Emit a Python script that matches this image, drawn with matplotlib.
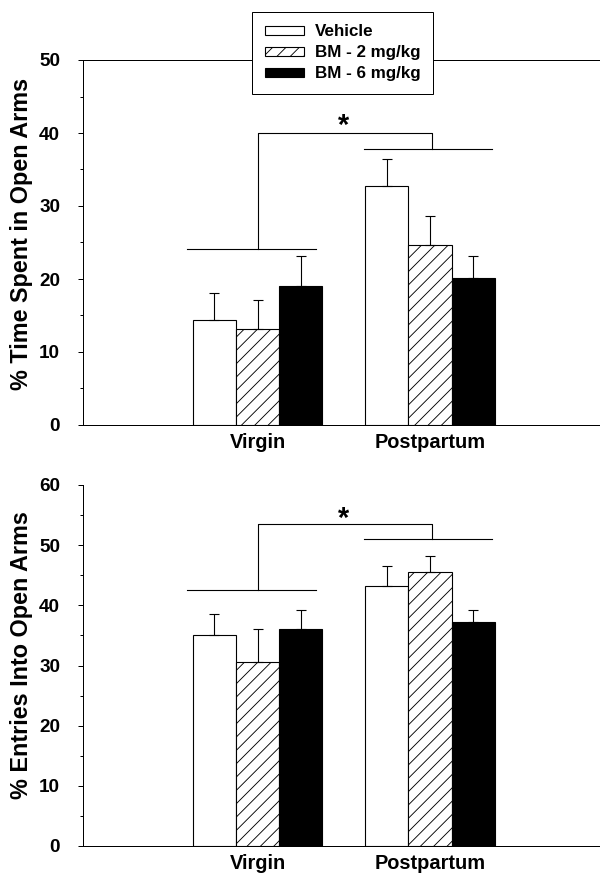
import matplotlib
matplotlib.use("Agg")
import matplotlib.pyplot as plt
import numpy as np

plt.rcParams['font.family'] = ['Liberation Sans', 'DejaVu Sans']
plt.rcParams['font.weight'] = 'bold'
plt.rcParams['hatch.linewidth'] = 0.8

# ---------------- data ----------------
groups = ["Virgin", "Postpartum"]
treatments = ["Vehicle", "BM - 2 mg/kg", "BM - 6 mg/kg"]

time_mean = {"Vehicle": [14.4, 32.7], "BM - 2 mg/kg": [13.2, 24.6], "BM - 6 mg/kg": [19.1, 20.2]}
time_sem = {"Vehicle": [3.7, 3.7], "BM - 2 mg/kg": [3.9, 4.0], "BM - 6 mg/kg": [4.1, 3.0]}

entries_mean = {"Vehicle": [35.1, 43.2], "BM - 2 mg/kg": [30.6, 45.5], "BM - 6 mg/kg": [36.0, 37.2]}
entries_sem = {"Vehicle": [3.5, 3.3], "BM - 2 mg/kg": [5.4, 2.7], "BM - 6 mg/kg": [3.2, 2.0]}

# significance bracket levels: [virgin line, postpartum line, top]
time_bracket = [24.1, 37.8, 40.0]
entries_bracket = [42.6, 51.0, 53.6]

time_yticks = [0, 10, 20, 30, 40, 50]
entries_yticks = [0, 10, 20, 30, 40, 50, 60]

styles = {
    "Vehicle": dict(facecolor="white", hatch=None),
    "BM - 2 mg/kg": dict(facecolor="white", hatch="//"),
    "BM - 6 mg/kg": dict(facecolor="black", hatch=None),
}

W, H = 600, 877
fig = plt.figure(figsize=(W / 80, H / 80), dpi=80)

def fy(py):
    return 1 - py / H

x = np.arange(len(groups))
bw = 0.25
xlim = ((83 - 257.5) / 172.5, (600 - 257.5) / 172.5)

def draw(ax, means, sems, yticks, bracket, ylabel, label_y, star_y, top_spine):
    handles = []
    for i, t in enumerate(treatments):
        xs = x + (i - 1) * bw
        b = ax.bar(xs, means[t], width=bw, edgecolor="black", linewidth=1.0,
                   label=t, zorder=2, **styles[t])
        handles.append(b)
        ax.errorbar(xs, means[t], yerr=[np.zeros(len(sems[t])), sems[t]],
                    fmt="none", ecolor="black", elinewidth=1.0, capsize=4.5,
                    capthick=1.0, zorder=3)
    # brackets
    lw = 1.0
    ax.plot([x[0] - 0.41, x[0] + 0.34], [bracket[0]] * 2, color="black", lw=lw)
    ax.plot([x[1] - 0.385, x[1] + 0.36], [bracket[1]] * 2, color="black", lw=lw)
    ax.plot([x[0] + 0.005, x[0] + 0.005, x[1] + 0.012, x[1] + 0.012],
            [bracket[0], bracket[2], bracket[2], bracket[1]], color="black", lw=lw)
    ax.text((x[0] + x[1]) / 2, star_y, "*", ha="center", va="center",
            fontsize=26, fontweight="bold")

    ax.set_xlim(*xlim)
    ax.set_ylim(yticks[0], yticks[-1])
    ax.set_yticks(yticks)
    ax.set_yticks(np.arange(yticks[0] + 5, yticks[-1], 10), minor=True)
    ax.set_xticks(x)
    ax.set_xticklabels(groups, fontsize=18, fontweight="bold")
    ax.tick_params(axis="x", length=0, pad=7)
    ax.tick_params(axis="y", which="major", length=4.5, width=0.9, pad=16,
                   labelsize=17)
    ax.tick_params(axis="y", which="minor", length=3, width=0.9)
    for lab in ax.get_yticklabels():
        lab.set_fontweight("bold")
    ax.spines["right"].set_visible(False)
    ax.spines["top"].set_visible(top_spine)
    for s in ax.spines.values():
        s.set_linewidth(0.9)
    fig.text(22 / W, fy(label_y), ylabel, rotation=90, ha="center", va="center",
             fontsize=21, fontweight="bold")
    return handles

ax1 = fig.add_axes([83 / W, fy(425), 517 / W, 365 / H])
ax2 = fig.add_axes([83 / W, fy(846), 517 / W, 361 / H])

handles = draw(ax1, time_mean, time_sem, time_yticks, time_bracket,
               "% Time Spent in Open Arms", 234, 40.9, True)
draw(ax2, entries_mean, entries_sem, entries_yticks, entries_bracket,
     "% Entries Into Open Arms", 655, 54.4, False)

leg = fig.legend(handles, treatments, loc="upper left",
                 bbox_to_anchor=(252 / W, fy(11.7)), borderaxespad=0,
                 fancybox=False, framealpha=1, edgecolor="black",
                 prop=dict(family="Liberation Sans", weight="bold", size=15.3),
                 handlelength=2.3, handleheight=0.47, handletextpad=0.65,
                 borderpad=0.75, labelspacing=0.35)
leg.get_frame().set_linewidth(0.9)

fig.savefig("out.png", dpi=80)
